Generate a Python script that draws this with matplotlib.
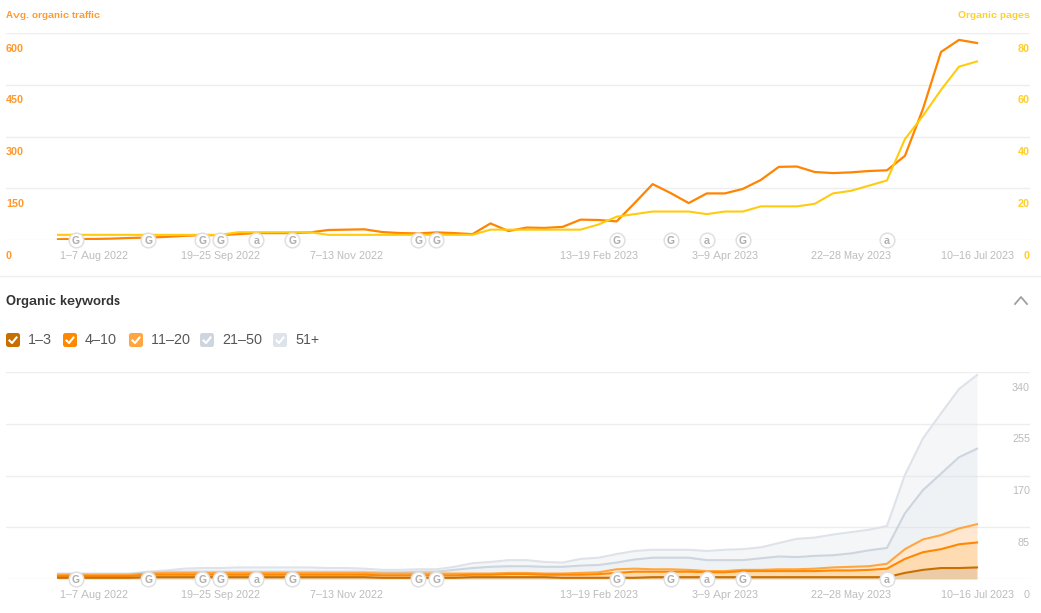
import numpy as np
import matplotlib
matplotlib.use('Agg')
import matplotlib.pyplot as plt
from matplotlib.patches import FancyBboxPatch

plt.rcParams['font.family'] = ['Liberation Sans', 'DejaVu Sans']
plt.rcParams['text.hinting'] = 'no_autohint'
plt.rcParams['text.hinting_factor'] = 1
plt.rcParams['text.kerning_factor'] = 6

# Weekly values, 52 weeks
traffic = [2, 3, 3, 4, 6, 7, 9, 12, 14, 14,
           17, 20, 20, 20, 22, 29, 30, 31, 23, 20,
           19, 22, 20, 17, 48, 26, 36, 35, 38, 59,
           58, 54, 107, 162, 136, 107, 135, 135, 148, 174,
           212, 213, 197, 194, 196, 200, 202, 244, 380, 545,
           580, 571]
pages = [2, 2, 2, 2, 2, 2, 2, 2, 2, 2,
         3, 3, 3, 3, 3, 2, 2, 2, 2, 2,
         2, 2, 2, 2, 4, 4, 4, 4, 4, 4,
         6, 9, 10, 11, 11, 11, 10, 11, 11, 13,
         13, 13, 14, 18, 19, 21, 23, 39, 48, 58,
         67, 69]
kw_1_3 = [2, 2, 2, 2, 2, 3, 3, 3, 3, 3,
          3, 3, 3, 3, 3, 3, 3, 3, 2, 2,
          2, 2, 2, 3, 3, 3, 3, 3, 2, 2,
          2, 2, 2, 3, 3, 3, 3, 3, 3, 3,
          3, 3, 3, 3, 3, 3, 3, 10, 15, 18,
          18, 19]
kw_4_10 = [3, 3, 3, 3, 3, 4, 4, 4, 4, 4,
           4, 4, 4, 4, 4, 4, 4, 4, 4, 4,
           4, 4, 4, 4, 4, 5, 5, 4, 5, 5,
           6, 8, 10, 9, 9, 9, 8, 8, 10, 10,
           10, 10, 10, 11, 11, 12, 14, 23, 29, 31,
           39, 41]
kw_11_20 = [2, 2, 2, 2, 2, 2, 3, 3, 3, 3,
            3, 3, 3, 3, 3, 3, 3, 3, 3, 3,
            3, 3, 3, 2, 2, 2, 2, 2, 2, 3,
            3, 6, 5, 4, 4, 3, 2, 2, 2, 2,
            3, 3, 4, 5, 6, 6, 8, 16, 21, 23,
            26, 30]
kw_21_50 = [1, 1, 1, 1, 1, 2, 2, 2, 2, 2,
            2, 2, 2, 2, 2, 2, 2, 2, 2, 2,
            3, 3, 6, 9, 11, 11, 11, 11, 11, 12,
            12, 11, 15, 19, 19, 20, 18, 18, 16, 19,
            21, 20, 21, 20, 22, 26, 26, 59, 81, 101,
            117, 124]
kw_51 = [1, 1, 1, 1, 1, 1, 2, 5, 6, 6,
         7, 7, 7, 7, 7, 6, 6, 5, 4, 4,
         4, 4, 5, 8, 8, 10, 10, 8, 7, 11,
         12, 14, 14, 13, 13, 13, 15, 17, 18, 18,
         22, 30, 30, 34, 35, 34, 36, 63, 85, 99,
         112, 121]

tick_weeks = [2, 9, 16, 30, 37, 44, 51]
tick_labels = ['1–7 Aug 2022', '19–25 Sep 2022', '7–13 Nov 2022', '13–19 Feb 2023',
               '3–9 Apr 2023', '22–28 May 2023', '10–16 Jul 2023']
event_weeks = [1, 5, 8, 9, 11, 13, 20, 21, 31, 34, 36, 38, 46]
event_types = ['G', 'G', 'G', 'G', 'a', 'G', 'G', 'G', 'G', 'G', 'a', 'G', 'a']

traffic_ticks = [150, 300, 450, 600]
pages_ticks = [20, 40, 60, 80]
kw_ticks = [85, 170, 255, 340]

bands = [kw_1_3, kw_4_10, kw_11_20, kw_21_50, kw_51]
band_names = ['1–3', '4–10', '11–20', '21–50', '51+']
band_colors = ['#c96f00', '#ff8800', '#ffa640', '#cdd5df', '#dee3ea']
band_alpha = [0.35, 0.3, 0.25, 0.3, 0.3]

W, H = 1041, 613
GRID = '#eeeeee'
TICK_GREY = '#bdbdbd'
ORANGE = '#ff9a2e'
YELLOW = '#ffcf2a'

fig = plt.figure(figsize=(W / 100, H / 100), dpi=100)


def make_axes(top, bottom):
    ax = fig.add_axes([6 / W, 1 - bottom / H, 1024 / W, (bottom - top) / H])
    # week 0 sits at x=58px, one week is 18.02px
    ax.set_xlim((6 - 58) / 18.02, (1030 - 58) / 18.02)
    for s in ax.spines.values():
        s.set_visible(False)
    ax.set_yticks([])
    ax.set_xticks(tick_weeks)
    ax.set_xticklabels(tick_labels, fontsize=8.0, color=TICK_GREY, va='baseline')
    ax.tick_params(axis='x', length=0, pad=13.8)
    ax.patch.set_alpha(0)
    return ax


def y_label(ax, x, value, text, color, ha, bold=False):
    ax.annotate(text, (x, value), xycoords=ax.get_yaxis_transform(), xytext=(0, -11.2),
                textcoords='offset points', ha=ha, va='center', fontsize=8.2, color=color,
                fontweight='bold' if bold else 'normal', annotation_clip=False)


def events(ax):
    ax.scatter(event_weeks, [0] * len(event_weeks), s=112, color='white', edgecolor='#e0e0e0',
               linewidth=1.1, zorder=6, clip_on=False)
    for w, t in zip(event_weeks, event_types):
        ax.text(w, 0, t, ha='center', va='center_baseline', fontsize=8, fontweight='bold',
                color='#b0b0b0', zorder=7, clip_on=False)


# Top chart, traffic and pages
ax1 = make_axes(33, 240)
ax1.set_ylim(0, 600)
for v in [0] + traffic_ticks:
    ax1.axhline(v, color=GRID, lw=1.0, zorder=1)
weeks = np.arange(len(traffic))
ax1.plot(weeks, traffic, color='#ff8400', lw=1.6, zorder=3, solid_joinstyle='round')
ax2 = ax1.twinx()
ax2.set_ylim(0, 80)
ax2.set_yticks([])
for s in ax2.spines.values():
    s.set_visible(False)
ax2.plot(weeks, pages, color='#ffcb0f', lw=1.5, zorder=4)
ax2.set_zorder(ax1.get_zorder() + 1)
for v in [0] + traffic_ticks:
    y_label(ax1, 0, v, str(v), ORANGE, 'left', bold=True)
for v in [0] + pages_ticks:
    y_label(ax2, 1, v, str(v), YELLOW, 'right', bold=True)
events(ax2)

# Bottom chart, stacked keyword positions
ax3 = make_axes(372, 579)
ax3.set_ylim(0, 340)
for v in [0] + kw_ticks:
    ax3.axhline(v, color=GRID, lw=1.0, zorder=1)
stack = np.cumsum(np.array(bands), axis=0)
lower = np.zeros(len(weeks))
for i in range(len(bands) - 1, -1, -1):
    low = stack[i - 1] if i > 0 else lower
    ax3.fill_between(weeks, low, stack[i], color=band_colors[i], alpha=band_alpha[i], lw=0, zorder=2)
for i in range(len(bands) - 1, -1, -1):
    ax3.plot(weeks, stack[i], color=band_colors[i], lw=1.5, zorder=3, clip_on=False)
for v in [0] + kw_ticks:
    y_label(ax3, 1, v, str(v), TICK_GREY, 'right')
events(ax3)

# Page furniture in pixel coordinates
ui = fig.add_axes([0, 0, 1, 1])
ui.set_xlim(0, W)
ui.set_ylim(H, 0)
ui.axis('off')
ui.patch.set_alpha(0)
ui.text(6, 16, 'Avg. organic traffic', color=ORANGE, fontsize=7.2, fontweight='bold', va='center')
ui.text(1030, 16, 'Organic pages', color=YELLOW, fontsize=7.2, fontweight='bold', va='center', ha='right')
ui.plot([0, W], [275.5, 275.5], color='#eeeeee', lw=1)
ui.text(6, 301, 'Organic keywords', color='#333333', fontsize=9.6, fontweight='bold', va='center')
ui.plot([1015, 1021, 1027], [304, 297, 304], color='#a0a0a0', lw=1.3)

box_x = [6, 63, 129, 200, 273]
for x, name, c in zip(box_x, band_names, band_colors):
    ui.add_patch(FancyBboxPatch((x + 1.5, 334.5), 11, 11, boxstyle='round,pad=1.5,rounding_size=2.5',
                                fc=c, ec='none'))
    ui.plot([x + 3.5, x + 6, x + 10.5], [340.5, 343, 337.5], color='white', lw=1.5)
    ui.text(x + 22, 340.5, name, color='#555555', fontsize=9.8, va='center')

fig.savefig('out.png', dpi=100)
